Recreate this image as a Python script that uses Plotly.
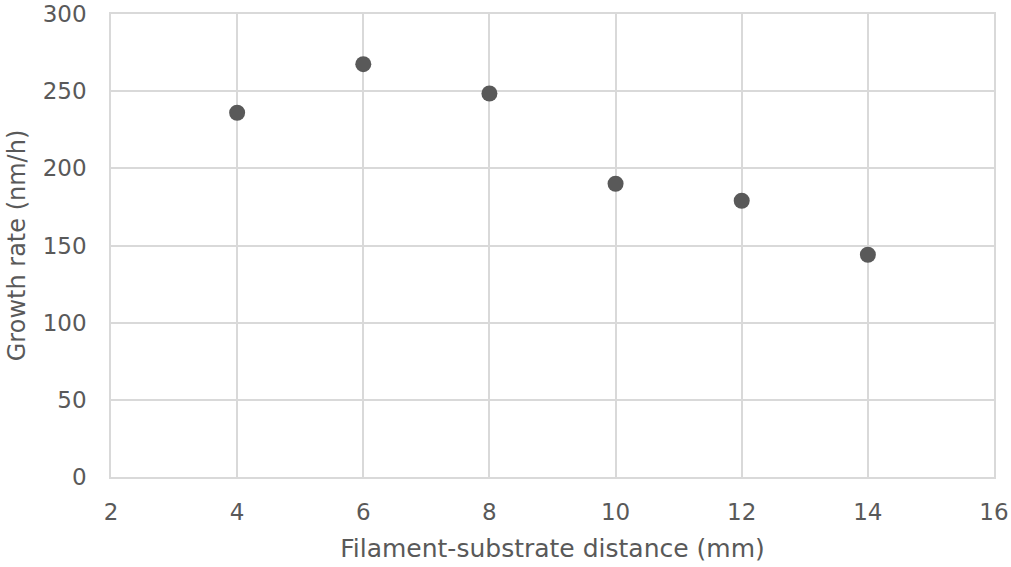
import plotly.graph_objects as go

# Filament-substrate distance (mm) and measured growth rate (nm/h)
distance_mm = [4, 6, 8, 10, 12, 14]
growth_rate = [236, 267.5, 248.5, 190, 179, 144]

x_ticks = [2, 4, 6, 8, 10, 12, 14, 16]
y_ticks = [0, 50, 100, 150, 200, 250, 300]

text_color = "#595959"
grid_color = "#d9d9d9"
font_family = "DejaVu Sans, Liberation Sans, Arial, sans-serif"

fig = go.Figure(
    go.Scatter(
        x=distance_mm,
        y=growth_rate,
        mode="markers",
        marker=dict(size=16, color="#595959", line=dict(width=0)),
        showlegend=False,
    )
)

fig.update_layout(
    width=1011,
    height=567,
    margin=dict(l=111, r=17, t=14, b=90),
    paper_bgcolor="white",
    plot_bgcolor="white",
    font=dict(family=font_family, size=23, color=text_color),
)

fig.update_xaxes(
    range=[2, 16],
    tickvals=x_ticks,
    showgrid=True,
    gridcolor=grid_color,
    gridwidth=1.5,
    showline=True,
    linecolor=grid_color,
    linewidth=1.5,
    mirror=True,
    zeroline=False,
    ticks="",
    automargin=False,
    ticklabelstandoff=14,
    tickfont=dict(size=23, color=text_color),
    title=dict(text="Filament-substrate distance (mm)", font=dict(size=25, color=text_color), standoff=15),
)

fig.update_yaxes(
    range=[0, 300],
    tickvals=y_ticks,
    showgrid=True,
    gridcolor=grid_color,
    gridwidth=1.5,
    showline=True,
    linecolor=grid_color,
    linewidth=1.5,
    mirror=True,
    zeroline=False,
    ticks="",
    automargin=False,
    ticklabelstandoff=18,
    tickfont=dict(size=23, color=text_color),
    title=dict(text="Growth rate (nm/h)", font=dict(size=24, color=text_color), standoff=10),
)

fig.write_html("out.html")
